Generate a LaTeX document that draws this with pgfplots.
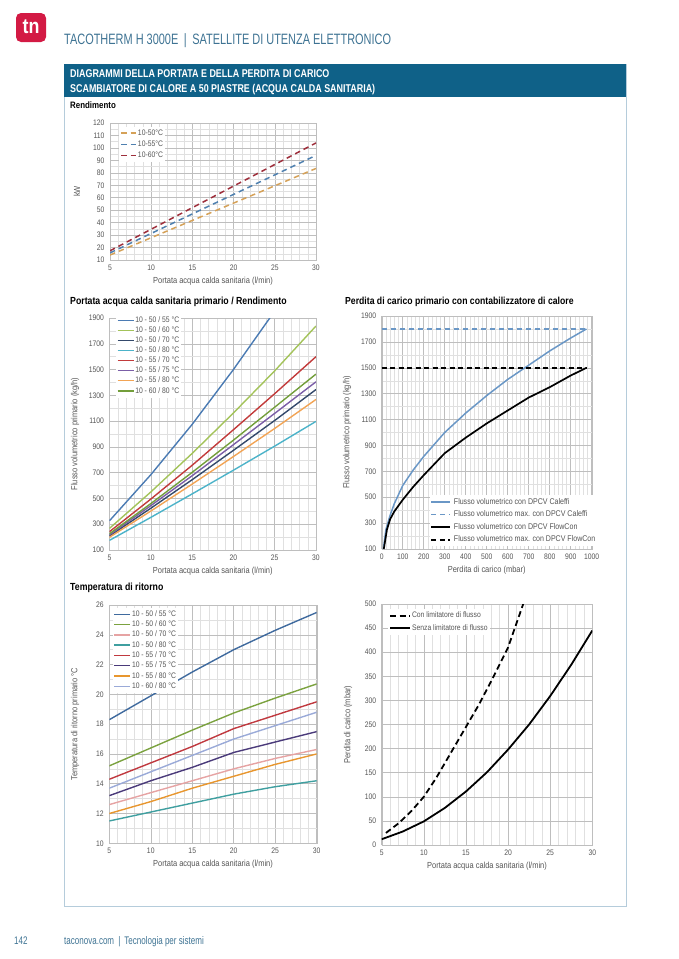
\documentclass[border=0pt]{standalone}
\usepackage{pgfplots}
\pgfplotsset{compat=1.18}
\usepackage{fontspec}
\setmainfont{Liberation Sans}[FakeStretch=0.85]
\newfontfamily\condfont{Liberation Sans}[FakeStretch=0.73]
\newfontfamily\banfont{Liberation Sans}[FakeStretch=0.79]

\definecolor{tnred}{HTML}{D31A44}
\definecolor{headblue}{HTML}{3E7393}
\definecolor{bannerblue}{HTML}{0F6188}
\definecolor{boxline}{HTML}{B5CCDB}
\definecolor{tickc}{HTML}{555555}
\definecolor{gridmaj}{HTML}{BEBEBE}
\definecolor{gridmin}{HTML}{E0E0E0}
% Rendimento
\definecolor{rOr}{HTML}{D5A158}
\definecolor{rBl}{HTML}{4F80AF}
\definecolor{rRd}{HTML}{9E2F3C}
% portata primario
\definecolor{pBl}{HTML}{4B7BB3}
\definecolor{pLg}{HTML}{A3C35A}
\definecolor{pNv}{HTML}{34496B}
\definecolor{pCy}{HTML}{4CB3C9}
\definecolor{pRd}{HTML}{C23B3B}
\definecolor{pPu}{HTML}{7B5EA7}
\definecolor{pOr}{HTML}{F2A455}
\definecolor{pGr}{HTML}{739E3B}
% temperatura ritorno
\definecolor{tBl}{HTML}{3F6A9E}
\definecolor{tGr}{HTML}{7BA23F}
\definecolor{tPk}{HTML}{E6A3A3}
\definecolor{tTe}{HTML}{3F9FA0}
\definecolor{tRd}{HTML}{C0393F}
\definecolor{tPu}{HTML}{4A3A7A}
\definecolor{tOr}{HTML}{E8962E}
\definecolor{tLv}{HTML}{9AAAD8}
\definecolor{cal}{HTML}{6A97C6}

\pgfplotsset{
  panel/.style={
    scale only axis,
    axis line style={draw=gridmaj},
    tick style={draw=none},
    grid=both,
    major grid style={draw=gridmaj,line width=0.5pt},
    minor grid style={draw=gridmin,line width=0.45pt},
    tick label style={font=\fontsize{8}{8}\selectfont,text=tickc},
    yticklabel style={xshift=-2pt},
    xticklabel style={yshift=-1pt},
    label style={font=\fontsize{8.8}{9}\selectfont,text=tickc},
    /pgf/number format/assume math mode=true,
    /pgf/number format/1000 sep={},
    legend cell align=left,
    legend style={draw=none,fill=white,font=\fontsize{8}{8}\selectfont,text=tickc,
      inner sep=1pt,row sep=-1.5pt,nodes={inner xsep=1pt}},
    legend image code/.code={\draw[#1,line width=1.4pt] (0pt,0pt) -- (16pt,0pt);},
    every axis plot/.append style={line width=1.4pt,mark=none},
  },
}

\begin{document}
\begin{tikzpicture}[x=1pt,y=1pt]
\path[use as bounding box] (0,0) rectangle (678,-959);
% logo and header
\fill[tnred,rounded corners=5pt] (16,-13) rectangle (46,-42);
\node[text=white,font=\bfseries\fontsize{21}{21}\selectfont] at (31,-26.5) {tn};
\node[anchor=base west,text=headblue,font=\condfont\fontsize{15}{15}\selectfont,inner sep=0pt] at (64,-44) {TACOTHERM H 3000E \,|\, SATELLITE DI UTENZA ELETTRONICO};
% box and banner
\draw[boxline,line width=0.8pt] (64,-64) rectangle (626,-906);
\fill[bannerblue] (64,-64) rectangle (626,-97);
\node[anchor=base west,text=white,font=\banfont\bfseries\fontsize{11.3}{11.3}\selectfont,inner sep=0pt] at (70,-77) {DIAGRAMMI DELLA PORTATA E DELLA PERDITA DI CARICO};
\node[anchor=base west,text=white,font=\banfont\bfseries\fontsize{11.3}{11.3}\selectfont,inner sep=0pt] at (70,-92.5) {SCAMBIATORE DI CALORE A 50 PIASTRE (ACQUA CALDA SANITARIA)};
% section titles
\node[anchor=base west,font=\bfseries\fontsize{9.3}{9.3}\selectfont,inner sep=0pt] at (70,-108) {Rendimento};
\node[anchor=base west,font=\bfseries\fontsize{10.3}{10.3}\selectfont,inner sep=0pt] at (70,-304) {Portata acqua calda sanitaria primario / Rendimento};
\node[anchor=base west,font=\bfseries\fontsize{10.2}{10.2}\selectfont,inner sep=0pt] at (345,-304) {Perdita di carico primario con contabilizzatore di calore};
\node[anchor=base west,font=\bfseries\fontsize{10.3}{10.3}\selectfont,inner sep=0pt] at (70,-590) {Temperatura di ritorno};
% footer
\node[anchor=base west,text=headblue,font=\condfont\fontsize{11}{11}\selectfont,inner sep=0pt] at (14,-944) {142};
\node[anchor=base west,text=headblue,font=\condfont\fontsize{11}{11}\selectfont,inner sep=0pt] at (64,-944) {taconova.com \,|\, Tecnologia per sistemi};

% ---------- Rendimento
\begin{axis}[panel, at={(110pt,-260pt)}, anchor=south west,
  width=206pt, height=137pt,
  xmin=5, xmax=30, ymin=10, ymax=120,
  xtick={5,10,...,30}, ytick={10,20,...,120},
  minor x tick num=4, minor y tick num=1,
  xlabel={Portata acqua calda sanitaria (l/min)}, ylabel={kW},
  ylabel style={at={(axis description cs:-0.16,0.5)},anchor=center},
  legend style={at={(rel axis cs:0.045,0.975)},anchor=north west,row sep=0pt},
  every axis plot/.append style={dash pattern=on 5.5pt off 4pt, line width=1.5pt},
  legend image code/.code={\draw[#1,line width=1.5pt] (0pt,0pt) -- (15pt,0pt);},
]
\addplot[rOr] coordinates {(5,14) (30,83.5)};
\addplot[rBl] coordinates {(5,15.7) (30,94)};
\addplot[rRd] coordinates {(5,17.4) (30,104)};
\legend{10-50°C,10-55°C,10-60°C}
\end{axis}

% ---------- Portata primario
\begin{axis}[panel, at={(109.5pt,-550pt)}, anchor=south west,
  width=206.5pt, height=232pt,
  xmin=5, xmax=30, ymin=100, ymax=1900,
  xtick={5,10,...,30}, ytick={100,300,...,1900},
  minor x tick num=4, minor y tick num=1,
  xlabel={Portata acqua calda sanitaria (l/min)}, ylabel={Flusso volumetrico primario (kg/h)},
  ylabel style={at={(axis description cs:-0.167,0.5)},anchor=center},
  legend style={at={(rel axis cs:0.03,1.02)},anchor=north west,row sep=-1.2pt},
]
\addplot[pBl] coordinates {(5,327) (10,684) (15,1074) (20,1500) (25,1954)};
\addplot[pLg] coordinates {(5,268) (10,550) (15,849) (20,1163) (25,1490) (30,1838)};
\addplot[pNv] coordinates {(5,209) (10,424) (15,645) (20,873) (25,1105) (30,1345)};
\addplot[pCy] coordinates {(5,175) (10,353) (15,535) (20,719) (25,906) (30,1098)};
\addplot[pRd] coordinates {(5,242) (10,495) (15,757) (20,1033) (25,1313) (30,1600)};
\addplot[pPu] coordinates {(5,218) (10,444) (15,676) (20,917) (25,1160) (30,1405)};
\addplot[pOr] coordinates {(5,199) (10,402) (15,611) (20,825) (25,1043) (30,1268)};
\addplot[pGr] coordinates {(5,226) (10,460) (15,702) (20,952) (25,1208) (30,1465)};
\legend{10 - 50 / 55 °C,10 - 50 / 60 °C,10 - 50 / 70 °C,10 - 50 / 80 °C,10 - 55 / 70 °C,10 - 55 / 75 °C,10 - 55 / 80 °C,10 - 60 / 80 °C}
\end{axis}

% ---------- Perdita di carico primario
\begin{axis}[panel, at={(381.7pt,-549pt)}, anchor=south west,
  width=210pt, height=233pt,
  xmin=0, xmax=1000, ymin=100, ymax=1900,
  xtick={0,100,...,1000}, ytick={100,300,...,1900},
  minor x tick num=4, minor y tick num=1,
  xlabel={Perdita di carico (mbar)}, ylabel={Flusso volumetrico primario (kg/h)},
  ylabel style={at={(axis description cs:-0.165,0.5)},anchor=center},
  legend style={at={(rel axis cs:1.035,0.01)},anchor=south east,row sep=1pt,font=\fontsize{8.3}{8.3}\selectfont,nodes={inner xsep=2.5pt}},
  legend image code/.code={\draw[#1] (0pt,0pt) -- (19pt,0pt);},
]
\addplot[cal, line width=1.5pt] coordinates {(8,100) (20,250) (40,360) (60,450) (100,590) (150,710) (200,815) (300,1000) (400,1150) (500,1285) (600,1410) (700,1520) (800,1630) (900,1730) (975,1800)};
\addplot[cal, line width=1.5pt, dash pattern=on 5pt off 4pt] coordinates {(0,1800) (975,1800)};
\addplot[black, line width=1.7pt] coordinates {(10,100) (25,250) (40,330) (60,390) (100,480) (150,580) (200,670) (300,840) (400,960) (500,1070) (600,1170) (700,1270) (800,1350) (900,1440) (975,1500)};
\addplot[black, line width=1.9pt, dash pattern=on 5pt off 3.5pt] coordinates {(0,1500) (975,1500)};
\legend{Flusso volumetrico con DPCV Caleffi,Flusso volumetrico max. con DPCV Caleffi,Flusso volumetrico con DPCV FlowCon,Flusso volumetrico max. con DPCV FlowCon}
\end{axis}

% ---------- Temperatura di ritorno
\begin{axis}[panel, at={(109.3pt,-843.3pt)}, anchor=south west,
  width=207.4pt, height=238.3pt,
  xmin=5, xmax=30, ymin=10, ymax=26,
  xtick={5,10,...,30}, ytick={10,12,...,26},
  minor x tick num=4, minor y tick num=1,
  xlabel={Portata acqua calda sanitaria (l/min)}, ylabel={Temperatura di ritorno primario °C},
  ylabel style={at={(axis description cs:-0.165,0.5)},anchor=center},
  legend style={at={(rel axis cs:0.015,0.99)},anchor=north west,row sep=-1pt},
]
\addplot[tBl] coordinates {(5,18.3) (10,19.9) (15,21.5) (20,23.0) (25,24.3) (30,25.5)};
\addplot[tGr] coordinates {(5,15.2) (10,16.4) (15,17.6) (20,18.75) (25,19.75) (30,20.7)};
\addplot[tPk] coordinates {(5,12.6) (10,13.4) (15,14.2) (20,15.0) (25,15.7) (30,16.3)};
\addplot[tTe] coordinates {(5,11.5) (10,12.1) (15,12.7) (20,13.3) (25,13.8) (30,14.2)};
\addplot[tRd] coordinates {(5,14.3) (10,15.4) (15,16.5) (20,17.7) (25,18.6) (30,19.5)};
\addplot[tPu] coordinates {(5,13.2) (10,14.2) (15,15.1) (20,16.1) (25,16.8) (30,17.5)};
\addplot[tOr] coordinates {(5,12.0) (10,12.8) (15,13.7) (20,14.5) (25,15.3) (30,16.0)};
\addplot[tLv] coordinates {(5,13.7) (10,14.8) (15,15.9) (20,17.0) (25,17.9) (30,18.8)};
\legend{10 - 50 / 55 °C,10 - 50 / 60 °C,10 - 50 / 70 °C,10 - 50 / 80 °C,10 - 55 / 70 °C,10 - 55 / 75 °C,10 - 55 / 80 °C,10 - 60 / 80 °C}
\end{axis}

% ---------- Perdita di carico
\begin{axis}[panel, at={(381.7pt,-845pt)}, anchor=south west,
  width=210.6pt, height=241pt,
  xmin=5, xmax=30, ymin=0, ymax=500,
  xtick={5,10,...,30}, ytick={0,50,...,500},
  minor x tick num=4,
  xlabel={Portata acqua calda sanitaria (l/min)}, ylabel={Perdita di carico (mbar)},
  ylabel style={at={(axis description cs:-0.16,0.5)},anchor=center},
  legend style={at={(rel axis cs:0.03,0.98)},anchor=north west,row sep=1pt},
  legend image code/.code={\draw[#1] (0pt,0pt) -- (20pt,0pt);},
]
\addplot[black, line width=1.8pt, dash pattern=on 6pt off 3.5pt] coordinates {(5.5,25) (7,45) (8.5,70) (10,100) (11.5,140) (12.5,170) (14,215) (15,245) (16.5,290) (18,340) (19,375) (20,410) (21,460) (21.8,500)};
\addplot[black, line width=1.8pt] coordinates {(5,12) (7.5,28) (10,49) (12.5,77) (15,111) (17.5,151) (20,198) (22.5,250) (25,309) (27.5,374) (30,445)};
\legend{Con limitatore di flusso,Senza limitatore di flusso}
\end{axis}
\end{tikzpicture}
\end{document}
